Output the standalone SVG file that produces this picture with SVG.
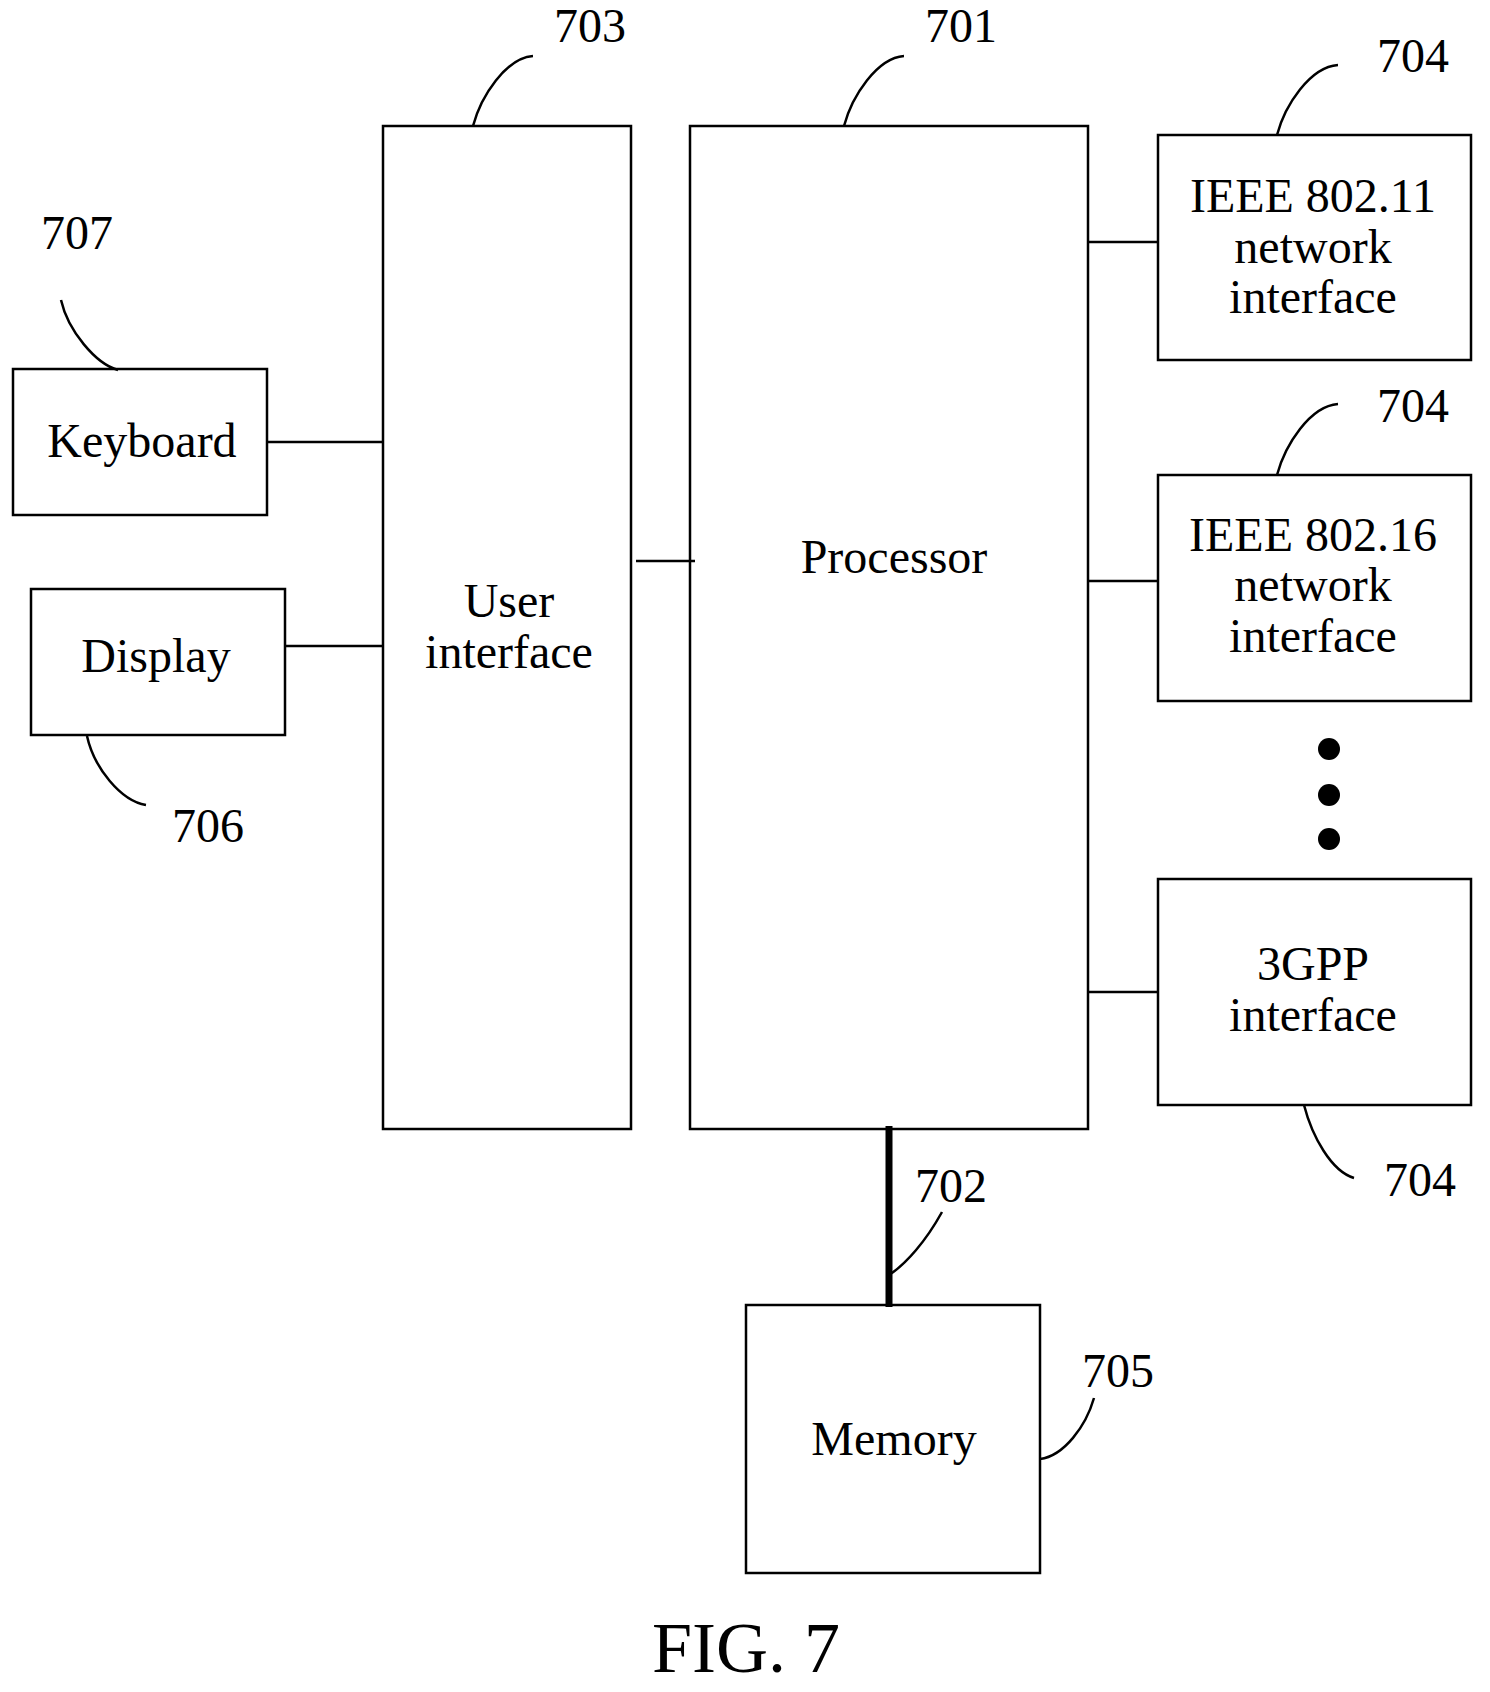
<svg xmlns="http://www.w3.org/2000/svg" width="1490" height="1692" viewBox="0 0 1490 1692">
<style>
.b{fill:#fff;stroke:#000;stroke-width:2.5}
.t{font-family:"Liberation Serif",serif;font-size:48px;fill:#000;text-anchor:middle}
.l{fill:none;stroke:#000;stroke-width:2.5}
</style>
<rect width="1490" height="1692" fill="#fff"/>
<g transform="translate(-4,-4)">
<g id="ui"><rect class="b" x="387" y="130" width="248" height="1003"/><text class="t" x="513" y="621">User</text><text class="t" x="513" y="672">interface</text></g>
<g id="proc"><rect class="b" x="694" y="130" width="398" height="1003"/><text class="t" x="898" y="577">Processor</text></g>
<g id="n1"><rect class="b" x="1162" y="139" width="313" height="225"/><text class="t" x="1317" y="216">IEEE 802.11</text><text class="t" x="1317" y="267">network</text><text class="t" x="1317" y="317">interface</text></g>
<g id="n2"><rect class="b" x="1162" y="479" width="313" height="226"/><text class="t" x="1317" y="555">IEEE 802.16</text><text class="t" x="1317" y="605">network</text><text class="t" x="1317" y="656">interface</text></g>
<g id="n3"><rect class="b" x="1162" y="883" width="313" height="226"/><text class="t" x="1317" y="984">3GPP</text><text class="t" x="1317" y="1035">interface</text></g>
<g id="kb"><rect class="b" x="17" y="373" width="254" height="146"/><text class="t" x="146" y="461">Keyboard</text></g>
<g id="disp"><rect class="b" x="35" y="593" width="254" height="146"/><text class="t" x="160" y="676">Display</text></g>
<g id="mem"><rect class="b" x="750" y="1309" width="294" height="268"/><text class="t" x="898" y="1459">Memory</text></g>
<g id="dots"><circle cx="1333" cy="753" r="11"/><circle cx="1333" cy="799" r="11"/><circle cx="1333" cy="843" r="11"/></g>
<g id="connectors">
<line class="l" x1="271" y1="446" x2="387" y2="446"/>
<line class="l" x1="289" y1="650" x2="387" y2="650"/>
<line class="l" x1="640" y1="565" x2="699" y2="565"/>
<line class="l" x1="1092" y1="246" x2="1162" y2="246"/>
<line class="l" x1="1092" y1="585" x2="1162" y2="585"/>
<line class="l" x1="1092" y1="996" x2="1162" y2="996"/>
<line x1="893" y1="1130" x2="893" y2="1311" stroke="#000" stroke-width="7"/>
<path class="l" d="M477 130 C485 100 510 62 537 60"/>
<path class="l" d="M848 130 C856 100 881 62 908 60"/>
<path class="l" d="M1281 139 C1289 109 1314 71 1342 69"/>
<path class="l" d="M1281 479 C1289 449 1314 410 1342 408"/>
<path class="l" d="M1308 1109 C1316 1140 1335 1175 1358 1182"/>
<path class="l" d="M65 304 C72 335 100 368 122 374"/>
<path class="l" d="M91 740 C98 772 125 805 150 809"/>
<path class="l" d="M893 1279 C910 1268 930 1245 946 1216"/>
<path class="l" d="M1044 1463 C1068 1460 1090 1430 1098 1402"/>
</g>
<g id="labels">
<text class="t" x="594" y="46">703</text>
<text class="t" x="965" y="46">701</text>
<text class="t" x="1417" y="76">704</text>
<text class="t" x="1417" y="426">704</text>
<text class="t" x="1424" y="1200">704</text>
<text class="t" x="81" y="253">707</text>
<text class="t" x="212" y="846">706</text>
<text class="t" x="955" y="1206">702</text>
<text class="t" x="1122" y="1391">705</text>
<text class="t" x="750" y="1676" style="font-size:72px">FIG. 7</text>
</g>
</g>
</svg>
